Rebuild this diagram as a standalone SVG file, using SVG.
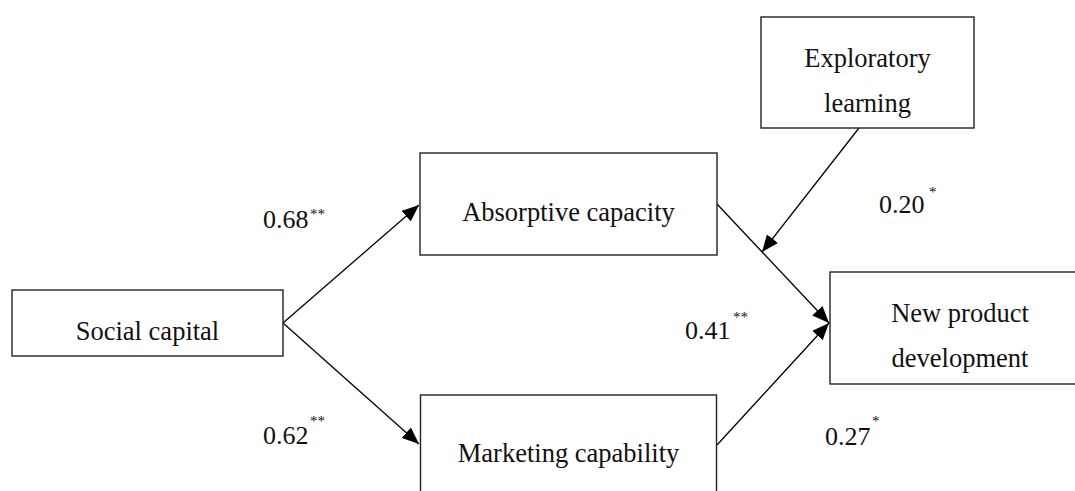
<svg xmlns="http://www.w3.org/2000/svg" width="1075" height="491" viewBox="0 0 1075 491">
<style>
.box{fill:#fff;stroke:#222;stroke-width:1.4}
.t{font-family:"Liberation Serif","Times New Roman",serif;font-size:26.5px;fill:#111;text-anchor:middle}
.n{font-family:"Liberation Serif","Times New Roman",serif;font-size:26px;fill:#111}
.s{font-family:"Liberation Serif","Times New Roman",serif;font-size:15px;fill:#111}
.c{stroke:#000;stroke-width:1.3;fill:none;marker-end:url(#ah)}
</style>
<defs>
<marker id="ah" markerUnits="userSpaceOnUse" markerWidth="18" markerHeight="14" refX="17" refY="7" orient="auto">
<path d="M0,0 L17,7 L0,14 z" fill="#000"/>
</marker>
</defs>
<rect width="1075" height="491" fill="#fff"/>
<g id="connectors">
<line class="c" x1="283" y1="323" x2="419" y2="205"/>
<line class="c" x1="283" y1="323" x2="419" y2="444"/>
<line class="c" x1="717" y1="204" x2="829" y2="323"/>
<line class="c" x1="717" y1="445" x2="829" y2="323"/>
<line class="c" x1="859" y1="128" x2="762" y2="252"/>
</g>
<g id="social-capital">
<rect class="box" x="12" y="290" width="271" height="66"/>
<text class="t" x="147.5" y="340">Social capital</text>
</g>
<g id="absorptive-capacity">
<rect class="box" x="420" y="153" width="297" height="102"/>
<text class="t" x="568.5" y="221">Absorptive capacity</text>
</g>
<g id="marketing-capability">
<rect class="box" x="420.5" y="395" width="296" height="110"/>
<text class="t" x="568.5" y="462">Marketing capability</text>
</g>
<g id="exploratory-learning">
<rect class="box" x="761" y="17" width="213" height="111"/>
<text class="t" x="867.5" y="67">Exploratory</text>
<text class="t" x="867.5" y="112">learning</text>
</g>
<g id="new-product-development">
<rect class="box" x="830" y="272" width="260" height="112"/>
<text class="t" x="960" y="322">New product</text>
<text class="t" x="960" y="367">development</text>
</g>
<g id="labels">
<text class="n" x="263" y="228">0.68</text><text class="s" x="310" y="219">**</text>
<text class="n" x="263" y="444">0.62</text><text class="s" x="310" y="426">**</text>
<text class="n" x="879" y="213">0.20</text><text class="s" x="929" y="197">*</text>
<text class="n" x="685" y="339">0.41</text><text class="s" x="733" y="322">**</text>
<text class="n" x="825" y="445">0.27</text><text class="s" x="872" y="426">*</text>
</g>
</svg>
